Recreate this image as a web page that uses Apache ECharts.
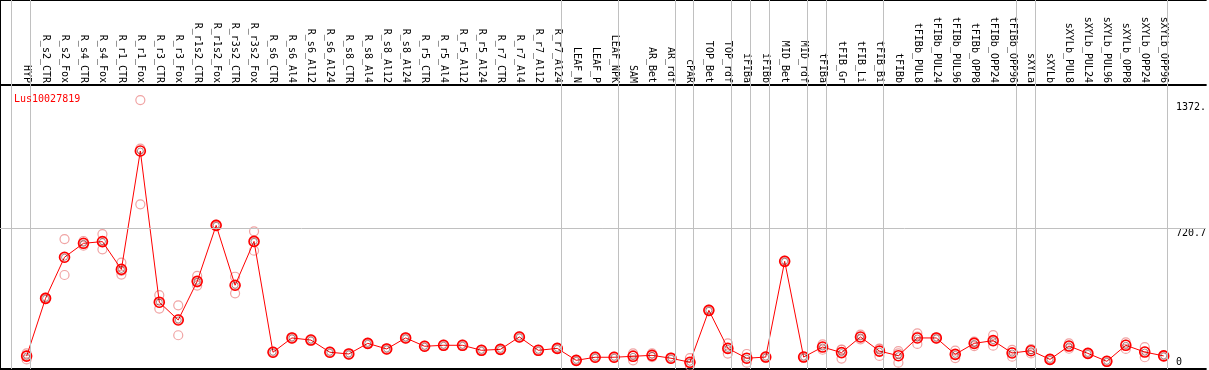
<!DOCTYPE html>
<html>
<head>
<meta charset="utf-8">
<script src="https://cdn.jsdelivr.net/npm/echarts@6/dist/echarts.min.js"></script>
<style>
html,body{margin:0;padding:0;background:#fff;}
#chart{width:1209px;height:370px;}
</style>
</head>
<body>
<div id="chart"></div>
<script>
const chartTitle = 'Lus10027819';
const categories = ['HYP','R_s2_CTR','R_s2_Fox','R_s4_CTR','R_s4_Fox','R_r1_CTR','R_r1_Fox','R_r3_CTR','R_r3_Fox','R_r1s2_CTR','R_r1s2_Fox','R_r3s2_CTR','R_r3s2_Fox','R_s6_CTR','R_s6_Al4','R_s6_Al12','R_s6_Al24','R_s8_CTR','R_s8_Al4','R_s8_Al12','R_s8_Al24','R_r5_CTR','R_r5_Al4','R_r5_Al12','R_r5_Al24','R_r7_CTR','R_r7_Al4','R_r7_Al12','R_r7_Al24','LEAF_N','LEAF_P','LEAF_NPK','SAM','AR_Bet','AR_rdf','cPAR','TOP_Bet','TOP_rdf','iFIBa','iFIBb','MID_Bet','MID_rdf','tFIBa','tFIB_Gr','tFIB_Li','tFIB_Bi','tFIBb','tFIBb_PUL8','tFIBb_PUL24','tFIBb_PUL96','tFIBb_OPP8','tFIBb_OPP24','tFIBb_OPP96','sXYLa','sXYLb','sXYLb_PUL8','sXYLb_PUL24','sXYLb_PUL96','sXYLb_OPP8','sXYLb_OPP24','sXYLb_OPP96'];
const meanValues = [59,358,571,643,652,508,1121,338,246,446,736,426,653,79,153,142,79,70,125,96,153,110,115,115,89,94,158,89,99,37,53,53,58,63,48,27,296,99,48,54,550,54,106,77,158,85,61,153,153,68,125,139,75,87,42,111,73,32,115,80,60];
const rep1 = [73,362,665,655,691,543,1385,375,322,474,740,470,705,82,156,145,82,73,128,99,156,113,118,118,92,97,161,92,102,40,56,56,73,73,51,49,300,125,70,57,554,57,120,92,170,97,85,177,156,87,111,168,91,73,45,125,76,35,130,105,63];
const rep2 = [42,354,479,631,612,481,845,305,167,424,732,384,605,76,150,139,76,67,122,93,150,107,112,112,86,91,155,86,96,34,50,50,37,54,45,9,292,72,25,51,546,51,92,46,146,60,25,122,150,49,130,113,56,94,39,97,70,29,96,53,57];
const rep3 = [62,358,569,643,653,500,1133,334,249,440,736,424,649,79,153,142,79,70,125,96,153,110,115,115,89,94,158,89,99,37,53,53,64,62,48,23,296,100,49,54,550,54,106,93,158,98,73,160,153,68,134,136,78,94,42,111,73,32,119,82,60];
const groupEnds = [-1,0,28,31,34,35,37,38,39,41,42,45,52,53,60];
const yTickValues = [0, 720.7, 1372];
const yTickLabels = ['0', '720.7', '1372.'];
const refLineValue = 720.7;

const FONT = 'DejaVu Sans Mono';
const chart = echarts.init(document.getElementById('chart'), null, {renderer: 'canvas'});

const catIdx = categories.map((c, i) => i);
const meanData = meanValues.map((v, i) => [i, v]);
const repData = [];
[rep1, rep2, rep3].forEach(arr => arr.forEach((v, i) => repData.push([i, v])));

const xMin = -1.405, xMax = 62.226;
const yMin = -7.8, yMax = 1903;
const plainLine = {show: true, onZero: false, lineStyle: {color: '#000', width: 2}};

const option = {
  animation: false,
  backgroundColor: '#fff',
  title: {
    text: chartTitle, left: 9, top: 89,
    textStyle: {color: '#ff0000', fontFamily: FONT, fontSize: 10, fontWeight: 'normal'}
  },
  grid: {left: 0, right: 0, top: 0, bottom: 1, containLabel: false},
  xAxis: [
    {
      type: 'value', position: 'top', offset: -85, min: xMin, max: xMax,
      axisLine: plainLine,
      axisTick: {show: false}, splitLine: {show: false},
      axisLabel: {
        customValues: catIdx, rotate: 90, margin: 2,
        fontFamily: FONT, fontSize: 10, color: '#000',
        formatter: v => categories[Math.round(v)] || ''
      }
    },
    {
      type: 'value', position: 'bottom', min: xMin, max: xMax,
      axisLine: plainLine,
      axisTick: {show: false}, axisLabel: {show: false}, splitLine: {show: false}
    },
    {
      type: 'value', position: 'top', min: xMin, max: xMax,
      axisLine: plainLine,
      axisTick: {show: false}, axisLabel: {show: false}, splitLine: {show: false}
    }
  ],
  yAxis: [
    {
      type: 'value', position: 'right', min: yMin, max: yMax,
      axisLine: {show: false, onZero: false}, axisTick: {show: false}, splitLine: {show: false},
      axisLabel: {
        inside: true, customValues: yTickValues, margin: 30, align: 'left',
        verticalAlign: 'top', verticalAlignMinLabel: 'bottom',
        fontFamily: FONT, fontSize: 10, color: '#000',
        formatter: v => {
          const k = yTickValues.findIndex(t => Math.abs(t - v) < 1e-6);
          return k >= 0 ? yTickLabels[k] : '';
        }
      }
    },
    {
      type: 'value', position: 'left', min: yMin, max: yMax,
      axisLine: plainLine,
      axisTick: {show: false}, axisLabel: {show: false}, splitLine: {show: false}
    }
  ],
  series: [
    {
      type: 'line', xAxisIndex: 0, yAxisIndex: 0, data: [], silent: true,
      markLine: {
        silent: true, symbol: 'none', label: {show: false},
        lineStyle: {color: '#c0c0c0', width: 1, type: 'solid'},
        data: groupEnds.map(g => ({xAxis: g + 0.2})).concat([{yAxis: refLineValue}])
      }
    },
    {
      type: 'scatter', xAxisIndex: 0, yAxisIndex: 0, data: repData, z: 2,
      symbol: 'circle', symbolSize: 9,
      itemStyle: {color: 'rgba(0,0,0,0)', borderColor: '#ec8c8c', borderWidth: 1.2}
    },
    {
      type: 'line', xAxisIndex: 0, yAxisIndex: 0, data: meanData, z: 3,
      lineStyle: {color: '#ff0000', width: 1},
      symbol: 'circle', symbolSize: 10, showAllSymbol: true,
      itemStyle: {color: 'rgba(0,0,0,0)', borderColor: '#ff0000', borderWidth: 1.6}
    },
    {
      type: 'scatter', xAxisIndex: 0, yAxisIndex: 0, data: meanData, z: 4,
      symbol: 'circle', symbolSize: 6,
      itemStyle: {color: 'rgba(0,0,0,0)', borderColor: 'rgba(60,0,0,0.55)', borderWidth: 1}
    }
  ]
};
chart.setOption(option);
</script>
</body>
</html>
